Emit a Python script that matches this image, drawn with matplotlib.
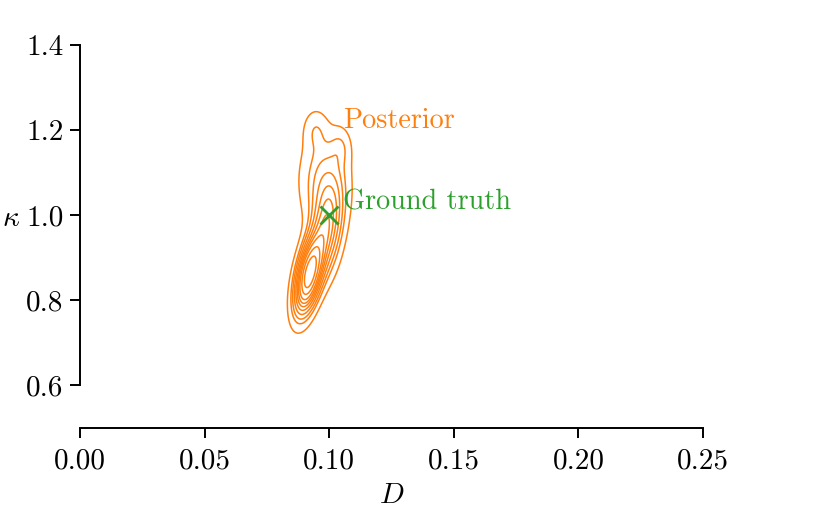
import numpy as np
import matplotlib
matplotlib.use("Agg")
import matplotlib.pyplot as plt

plt.rcParams['font.family'] = 'serif'
plt.rcParams['font.serif'] = ['cmr10']
plt.rcParams['mathtext.fontset'] = 'cm'
plt.rcParams['axes.formatter.use_mathtext'] = True
plt.rcParams['font.size'] = 21

ORANGE = "#ff7f0e"
GREEN = "#2ca02c"

# posterior approximated as a small gaussian mixture
mix_D = [0.0920, 0.0990, 0.0980, 0.0945, 0.1045]
mix_k = [0.860, 0.970, 1.080, 1.200, 1.160]
mix_sD = [0.0035, 0.0040, 0.0060, 0.0032, 0.0028]
mix_sk = [0.055, 0.070, 0.070, 0.032, 0.030]
mix_rho = [0.50, 0.30, 0.0, 0.0, 0.0]
mix_w = [0.40, 0.25, 0.18, 0.020, 0.016]

truth_D = 0.10
truth_k = 1.00

xticks = [0.00, 0.05, 0.10, 0.15, 0.20, 0.25]
yticks = [0.6, 0.8, 1.0, 1.2, 1.4]


def mixture_density(X, Y):
    Z = np.zeros_like(X)
    for mD, mk, sD, sk, r, w in zip(mix_D, mix_k, mix_sD, mix_sk, mix_rho, mix_w):
        u = (X - mD) / sD
        v = (Y - mk) / sk
        q = (u**2 - 2*r*u*v + v**2) / (1 - r**2)
        Z += w * np.exp(-0.5*q) / (2*np.pi*sD*sk*np.sqrt(1 - r**2))
    return Z


def iso_levels(Z, n=10, thresh=0.05):
    # same idea as seaborn's iso-proportion levels
    z = np.sort(Z.ravel())
    cum = np.cumsum(z)
    cum = cum / cum[-1]
    props = np.linspace(thresh, 1, n)[:-1]
    return np.interp(props, cum, z)


gx = np.linspace(0.07, 0.13, 400)
gy = np.linspace(0.6, 1.4, 400)
X, Y = np.meshgrid(gx, gy)
Z = mixture_density(X, Y)
levels = np.unique(iso_levels(Z, n=11))

fig = plt.figure(figsize=(8.31, 5.14), dpi=100)
ax = fig.add_axes([80/831, 1 - 427.5/514, 623/831, 382.5/514])

ax.contour(X, Y, Z, levels=levels, colors=ORANGE, linewidths=1.1)
ax.plot([truth_D], [truth_k], marker='x', color=GREEN, markersize=13,
        markeredgewidth=2, linestyle='none')

ax.text(0.1055, 1.222, "Posterior", color=ORANGE, va='center', ha='left', fontsize=20.3)
ax.text(0.1055, 1.030, "Ground truth", color=GREEN, va='center', ha='left', fontsize=20.3)

ax.set_xlim(0, 0.25)
ax.set_ylim(0.5, 1.4)
ax.set_xticks(xticks)
ax.set_yticks(yticks)
ax.set_xticklabels([f"{t:.2f}" for t in xticks])
ax.set_yticklabels([f"{t:.1f}" for t in yticks])
ax.set_xlabel(r"$D$", labelpad=6)
ax.set_ylabel(r"$\kappa$", rotation=0)
ax.yaxis.set_label_coords(-0.11, 0.51)

for s in ['top', 'right']:
    ax.spines[s].set_visible(False)
ax.spines['left'].set_bounds(0.6, 1.4)
ax.spines['bottom'].set_bounds(0.0, 0.25)
for s in ['left', 'bottom']:
    ax.spines[s].set_linewidth(1.4)
ax.tick_params(width=1.4, length=7)
ax.tick_params(axis='x', pad=8)
ax.tick_params(axis='y', pad=5)

fig.savefig("out.png", dpi=100)
